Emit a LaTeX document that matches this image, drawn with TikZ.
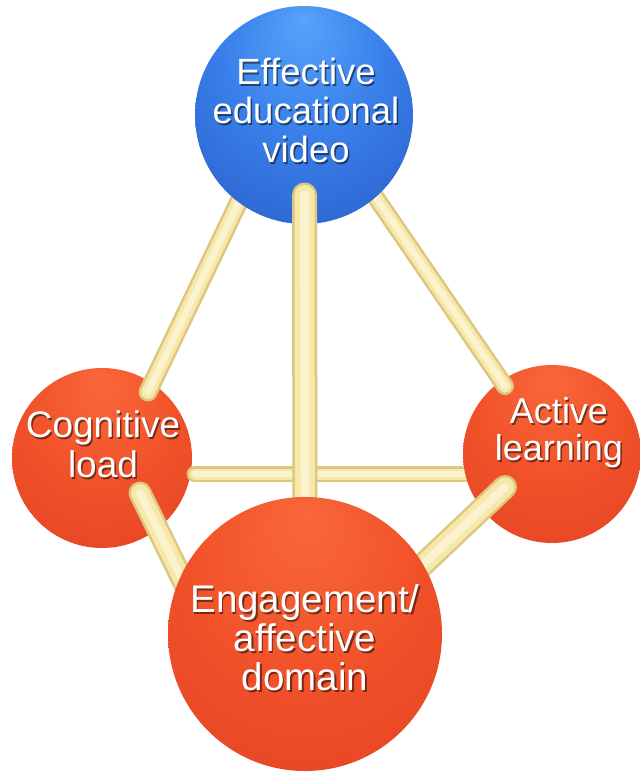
\documentclass[tikz,border=0pt]{standalone}
\usepackage{fontspec}
\setmainfont{Liberation Sans}
\usetikzlibrary{calc}
\definecolor{roddark}{HTML}{DCC680}
\definecolor{rodlight}{HTML}{F5E8A8}
\definecolor{rodhi}{HTML}{FBF3CE}
\definecolor{bA}{HTML}{56A4FC}
\definecolor{bB}{HTML}{3A80EA}
\definecolor{bC}{HTML}{2C64D0}
\definecolor{bD}{HTML}{2250B4}
\definecolor{bE}{HTML}{1A3A88}
\definecolor{rA}{HTML}{F8683A}
\definecolor{rB}{HTML}{F2522A}
\definecolor{rC}{HTML}{E44422}
\definecolor{rD}{HTML}{CC3418}
\definecolor{rE}{HTML}{9A2410}
\pgfdeclareradialshading{bluesph}{\pgfpoint{0bp}{22bp}}{color(0bp)=(bA); color(18bp)=(bB); color(36bp)=(bC); color(46bp)=(bD); color(50bp)=(bE)}
\pgfdeclareradialshading{redsph}{\pgfpoint{0bp}{22bp}}{color(0bp)=(rA); color(20bp)=(rB); color(38bp)=(rC); color(46bp)=(rD); color(50bp)=(rE)}
\tikzset{
  sph/.style={circle, inner sep=0pt, draw=none, minimum size=#1},
  bluesphere/.style={sph=#1, shading=bluesph},
  redsphere/.style={sph=#1, shading=redsph},
  rod/.style={line cap=round, line width=#1pt, draw=roddark,
    postaction={draw=rodlight, line width=#1pt-5pt, line cap=round},
    postaction={draw=rodhi, line width=#1pt*0.35, line cap=round}},
  lbl/.style={text=white, align=center, inner sep=0pt},
  shd/.style={text=black, opacity=0.5, align=center, inner sep=0pt}
}
\begin{document}
\begin{tikzpicture}[x=1pt,y=-1pt]
\useasboundingbox (0,0) rectangle (640,772);
\clip (0,0) rectangle (640,772);
\fill[white] (0,0) rectangle (640,772);
\node[redsphere=180] (cog) at (102,458) {};
% horizontal rod (in front of cognitive load, behind active learning)
\coordinate (h1) at (194.5,474);
\coordinate (h2) at (485,474);
\draw[rod=16] (h1) -- (h2);
\node[redsphere=178] (act) at (552,454) {};
% rods from top sphere to side spheres
\coordinate (a1) at (254,170);
\coordinate (a2) at (148,392);
\coordinate (b1) at (357,170);
\coordinate (b2) at (505,386);
\draw[rod=19] (a1) -- (a2);
\draw[rod=18] (b1) -- (b2);
\node[bluesphere=218] (vid) at (304,115) {};
% vertical rod
\coordinate (v1) at (304.5,195);
\coordinate (v2) at (305,560);
\draw[rod=25] (v1) -- (v2);
% rods to engagement sphere
\coordinate (c1) at (140,493);
\coordinate (c2) at (190,595);
\coordinate (d1) at (505,487);
\coordinate (d2) at (410,577);
\draw[rod=23] (c1) -- (c2);
\draw[rod=24] (d1) -- (d2);
\node[redsphere=274] (eng) at (305,634) {};
% labels (dark drop shadow, then white text)
\node[shd, font=\fontsize{36.5}{39}\selectfont] (vidS) at (307.5,112) {Effective\\educational\\video};
\node[lbl, font=\fontsize{36.5}{39}\selectfont] (vidL) at (306,110) {Effective\\educational\\video};
\node[shd, font=\fontsize{37}{40}\selectfont] (cogS) at (104.5,446.5) {Cognitive\\load};
\node[lbl, font=\fontsize{37}{40}\selectfont] (cogL) at (103,444.5) {Cognitive\\load};
\node[shd, font=\fontsize{36}{37}\selectfont] (actS) at (560.5,435) {Active\\learning};
\node[lbl, font=\fontsize{36}{37}\selectfont] (actL) at (559,433) {Active\\learning};
\node[shd, font=\fontsize{38.5}{39}\selectfont] (engS) at (306.5,639.5) {Engagement/\\affective\\domain};
\node[lbl, font=\fontsize{38.5}{39}\selectfont] (engL) at (305,637.5) {Engagement/\\affective\\domain};
\end{tikzpicture}
\end{document}
